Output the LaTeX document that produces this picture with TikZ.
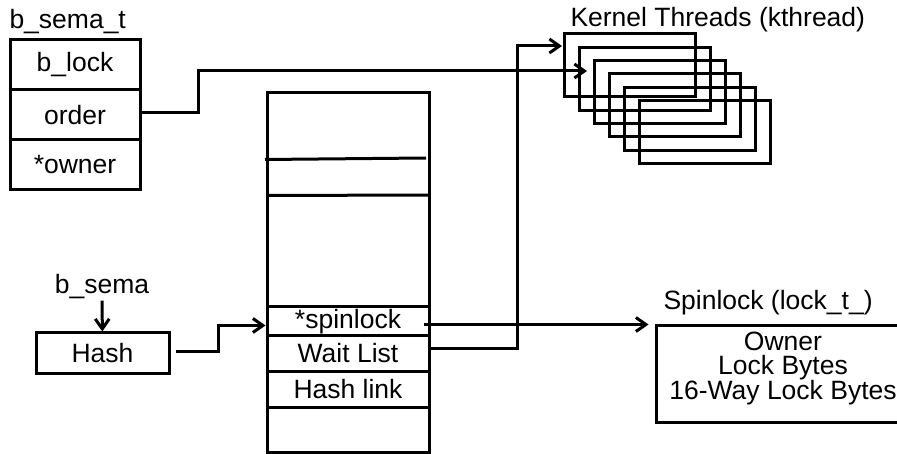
\documentclass[tikz,border=0pt]{standalone}
\usepackage{fontspec}
\setmainfont{Liberation Sans}
\usetikzlibrary{arrows.meta, positioning}

\begin{document}
\begin{tikzpicture}[
        x=1pt, y=-1pt,
        every node/.style={font=\fontsize{26.5}{23.5}\selectfont, inner sep=0},
        line width=3pt,
        >={Straight Barb[length=10pt, width=14pt]},
        field/.style={draw, minimum width=130, minimum height=50},
        row/.style={draw, minimum width=162},
        kbox/.style={draw, minimum width=131, minimum height=63}
    ]
    \clip (0,0) rectangle (897,454);

    % b_sema_t
    \node[anchor=base west] (semat) at (8,29) {b\_sema\_t};
    \node[field] (block) at (75,65) {b\_lock};
    \node[field] (order) at (75,115) {order};
    \node[field] (owner) at (75,165) {*owner};

    % Kernel threads
    \node[anchor=base west] (ktlabel) at (569,27) {Kernel Threads (kthread)};
    \foreach \i in {0,...,5}
        \node[kbox] (kt\i) at (629.5+15*\i, 65.5+13.3*\i) {};
    \coordinate (ktin) at (562,46);
    \coordinate (ordin) at (587,71);

    % Semaphore table
    \node[draw, minimum width=162, minimum height=359] (tbl) at (348,272.5) {};
    \draw (265,159.5) -- (426,158);
    \draw (267,195.5) -- (429,195);
    \node[row, minimum height=29] (spin) at (348,321.5) {*spinlock};
    \node[row, minimum height=35] (wait) at (348,353.5) {Wait List};
    \node[row, minimum height=36] (hlink) at (348,389) {Hash link};

    % Hash
    \node (bsema) at (102,287) {b\_sema};
    \node[draw, minimum width=133, minimum height=40] (hash) at (102.5,353) {Hash};
    \draw[->] (bsema) -- (hash);

    % Spinlock
    \node[anchor=base west] (lklabel) at (662,310) {Spinlock (lock\_t\_)};
    \node[draw, minimum width=254, minimum height=96] (lk) at (783,374) {};
    \node[anchor=north, align=center] (lktext) at ([yshift=-6pt]lk.north)
        {Owner\\Lock Bytes\\16-Way Lock Bytes};

    % Links
    \draw[->] ([xshift=-2pt,yshift=2pt]order.east) -- ++(59,0) |- (ordin);
    \draw[->] ([yshift=5pt]wait.east) -- ++(87,0) |- (ktin);
    \draw[->] ([xshift=-7pt]spin.east |- lk.north west) -- ([xshift=-6pt]lk.north west);
    \draw[->] ([xshift=5pt,yshift=2pt]hash.east) -- ++(43,0) |- ([yshift=-4pt]spin.west);

\end{tikzpicture}
\end{document}
